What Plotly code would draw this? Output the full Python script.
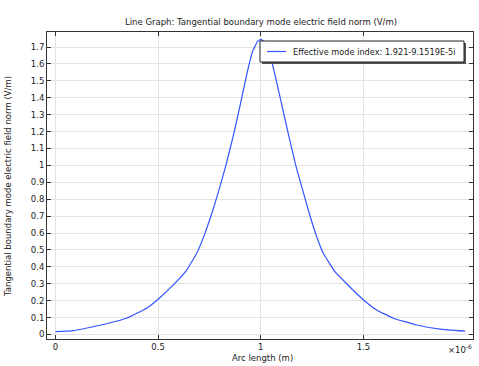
import plotly.graph_objects as go

# Arc length in units of 1e-6 m
arc_length = [0, 0.08, 0.2, 0.346, 0.444, 0.5, 0.574, 0.639, 0.688, 0.728, 0.767,
              0.80, 0.83, 0.865, 0.90, 0.93, 0.96, 0.985, 1.0, 1.015, 1.04, 1.07,
              1.10, 1.135, 1.17, 1.20, 1.235, 1.27, 1.304, 1.361, 1.418, 1.5, 1.564,
              1.645, 1.759, 1.873, 1.995]
field_norm = [0.017, 0.021, 0.05, 0.096, 0.155, 0.208, 0.293, 0.381, 0.48, 0.598, 0.736,
              0.87, 1.0, 1.17, 1.36, 1.53, 1.675, 1.735, 1.745, 1.735, 1.675, 1.53,
              1.37, 1.18, 1.0, 0.87, 0.72, 0.585, 0.48, 0.371, 0.3, 0.204, 0.145,
              0.096, 0.056, 0.031, 0.019]

x_ticks = [0, 0.5, 1, 1.5]
x_tick_labels = ["0", "0.5", "1", "1.5"]
y_ticks = [round(0.1 * i, 1) for i in range(18)]
y_tick_labels = ["0", "0.1", "0.2", "0.3", "0.4", "0.5", "0.6", "0.7", "0.8", "0.9",
                 "1", "1.1", "1.2", "1.3", "1.4", "1.5", "1.6", "1.7"]

legend_name = "Effective mode index: 1.921-9.1519E-5i"
title_text = "Line Graph: Tangential boundary mode electric field norm (V/m)"
x_title = "Arc length (m)"
y_title = "Tangential boundary mode electric field norm (V/m)"

FONT = "DejaVu Sans"
TXT = "#222222"
LINE_COLOR = "#3355ff"

W, H = 479, 366
ML, MR, MT, MB = 47, 6, 32, 27
PW, PH = W - ML - MR, H - MT - MB


def px_x(p):
    return (p - ML) / PW


def px_y(p):
    return (H - MB - p) / PH


fig = go.Figure()
fig.add_trace(go.Scatter(
    x=arc_length, y=field_norm, mode="lines", name=legend_name,
    line=dict(color=LINE_COLOR, width=1.2, shape="spline", smoothing=0.3),
    showlegend=False,
))

axis_common = dict(
    showline=True, linecolor="#333333", linewidth=1, mirror="ticks",
    ticks="inside", ticklen=4, tickcolor="#333333",
    showgrid=True, gridcolor="#e3e3e3", gridwidth=1,
    zeroline=False, automargin=False,
    tickfont=dict(family=FONT, size=8.5, color=TXT),
)

fig.update_layout(
    width=W, height=H,
    margin=dict(l=ML, r=MR, t=MT, b=MB, autoexpand=False),
    paper_bgcolor="white", plot_bgcolor="white",
    font=dict(family=FONT, size=8.5, color=TXT),
    title=dict(text=title_text, x=261 / W, xanchor="center", y=1 - 22 / H,
               yanchor="middle", font=dict(family=FONT, size=8.5, color=TXT)),
    xaxis=dict(range=[-0.041, 2.033], tickvals=x_ticks, ticktext=x_tick_labels,
               **axis_common),
    yaxis=dict(range=[-0.027, 1.789], tickvals=y_ticks, ticktext=y_tick_labels,
               **axis_common),
    showlegend=False,
)

# axis titles
fig.add_annotation(text=x_title, xref="paper", yref="paper",
                   x=px_x(262), y=px_y(358), xanchor="center", yanchor="middle",
                   showarrow=False, font=dict(family=FONT, size=8.5, color=TXT))
fig.add_annotation(text=y_title, xref="paper", yref="paper",
                   x=px_x(8), y=px_y(187), xanchor="center", yanchor="middle",
                   textangle=-90, showarrow=False,
                   font=dict(family=FONT, size=8.5, color=TXT))

# exponent label
fig.add_annotation(text="×10<sup>-6</sup>", xref="paper", yref="paper",
                   x=px_x(474), y=px_y(349), xanchor="right", yanchor="middle",
                   showarrow=False, font=dict(family=FONT, size=8.5, color=TXT))

# legend box (with shadow), sample line, text
bx0, bx1, by0, by1 = 260, 464, 41, 62
fig.add_shape(type="rect", xref="paper", yref="paper", layer="above",
              x0=px_x(bx0 + 2), x1=px_x(bx1 + 2), y0=px_y(by1 + 2), y1=px_y(by0 + 2),
              line=dict(width=0), fillcolor="#555555")
fig.add_shape(type="rect", xref="paper", yref="paper", layer="above",
              x0=px_x(bx0), x1=px_x(bx1), y0=px_y(by1), y1=px_y(by0),
              line=dict(color="#222222", width=1), fillcolor="white")
fig.add_shape(type="line", xref="paper", yref="paper", layer="above",
              x0=px_x(267), x1=px_x(286), y0=px_y(51.5), y1=px_y(51.5),
              line=dict(color=LINE_COLOR, width=1.2))
fig.add_annotation(text=legend_name, xref="paper", yref="paper",
                   x=px_x(291), y=px_y(51.5), xanchor="left", yanchor="middle",
                   showarrow=False, font=dict(family=FONT, size=8.2, color=TXT))

fig.write_html("out.html", post_script="document.body.style.margin='0';",
               config={"displayModeBar": False})
